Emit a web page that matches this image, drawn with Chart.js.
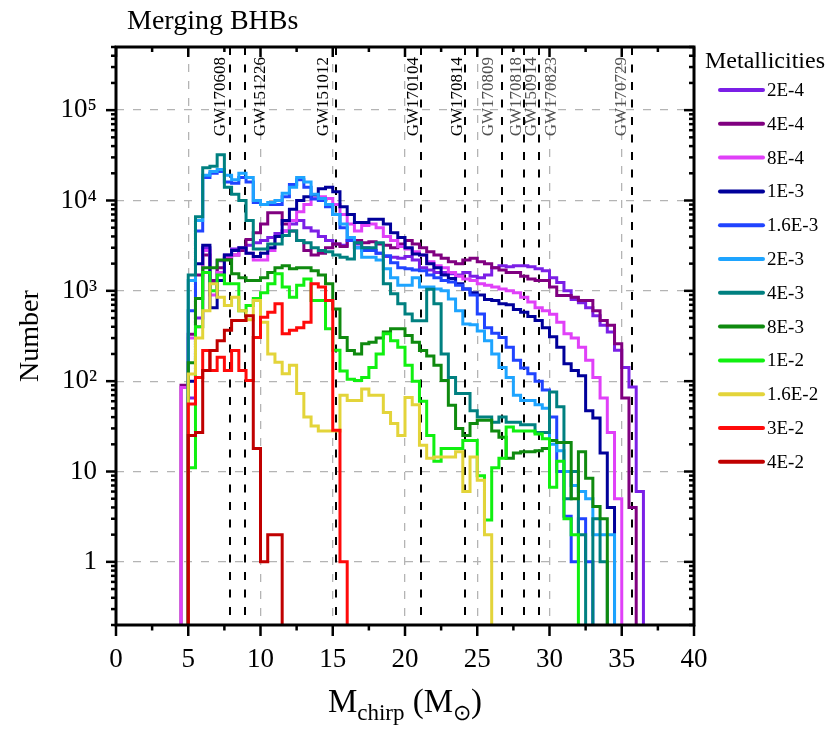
<!DOCTYPE html>
<html><head><meta charset="utf-8">
<script src="https://cdn.jsdelivr.net/npm/chart.js"></script>
<style>html,body{margin:0;padding:0;background:#fff;}canvas{display:block;}</style>
</head><body>
<canvas id="c" width="830" height="731"></canvas>
<script>
// ---------- data ----------
const binEdges = [4.5,5,5.5,6,6.5,7,7.5,8,8.5,9,9.5,10,10.5,11,11.5,12,12.5,13,13.5,14,14.5,15,15.5,16,16.5,17,17.5,18,18.5,19,19.5,20,20.5,21,21.5,22,22.5,23,23.5,24,24.5,25,25.5,26,26.5,27,27.5,28,28.5,29,29.5,30,30.5,31,31.5,32,32.5,33,33.5,34,34.5,35,35.5,36,36.5];
const metallicities = ['2E-4','4E-4','8E-4','1E-3','1.6E-3','2E-3','4E-3','8E-3','1E-2','1.6E-2','3E-2','4E-2'];
const seriesColors = ['#7B1FE6','#800080','#E040F8','#00009A','#2044FF','#1EA4FF','#008080','#0F8A0F','#10F010','#E3D43A','#FF0A0A','#C00000'];

const n2E4 = [0,65,500,3000,1250,2150,2500,2900,2900,3200,3400,3600,3900,4300,4600,5500,6000,5000,4600,4000,3600,3300,3200,3600,3300,3000,2800,2600,2400,2350,2300,2400,2200,1800,1700,1600,1600,1550,1500,1600,1450,1400,1500,1800,1900,1850,1900,1900,1850,1750,1670,1400,1240,1000,800,740,650,530,415,350,220,142,86,6];
const n4E4 = [90,330,1500,2500,1300,1800,2300,2500,2800,3700,4400,5500,7300,7300,5500,4600,3600,2800,2500,2600,3000,3300,3100,3600,3600,3400,3500,3300,3200,3000,3300,3600,3300,3000,2700,2500,2300,2100,2000,2200,2300,2100,2000,1800,1700,1600,1600,1450,1350,1300,1300,1100,890,890,850,780,780,600,470,415,260,65,4,0];
const n8E4 = [85,300,400,2800,900,1600,2400,2500,3000,2600,2200,2200,2800,4000,4600,6000,7500,9000,10500,11000,10500,9000,7000,5500,4600,5300,5500,5000,4000,3600,3100,2900,2700,2500,2100,1900,1800,1600,1450,1350,1300,1200,1150,1100,1050,1000,950,850,750,650,600,550,450,335,300,237,170,110,65,27,5];
const n1E3 = [0,100,2000,3200,650,1300,2500,2800,3000,2600,2400,2600,3000,4000,6000,8000,10000,11000,11500,13500,14000,12500,8500,7000,5700,5700,6200,6200,5500,4400,3900,3000,2550,2500,2000,1800,1500,1370,1200,1050,950,900,800,780,720,700,620,580,520,470,390,310,237,156,131,115,47,39,16,4];
const n16E3 = [0,600,4600,18000,20000,21000,16000,15500,18000,16000,9500,9000,9000,9000,11000,15000,17000,14000,10400,10000,8500,7000,5000,3600,3000,2800,2800,2600,2450,2050,1800,1750,1700,1670,1500,1400,1300,1250,1150,1050,900,555,390,340,305,237,170,140,121,100,80,40,10,3.2,1,3,1];
const n2E3 = [0,1300,6000,19000,21000,22000,19000,17000,20000,18000,10000,9000,9500,10000,12000,14000,18000,16000,11700,10500,9000,7000,5500,3900,3000,2350,2350,2200,1750,1400,1150,1150,1400,1100,1100,1050,1000,810,600,430,420,360,280,200,142,110,70,61,61,55,50,20,17,10,7,6,5,2,2,2];
const n4E3 = [0,1500,6600,23000,24000,32000,14000,11700,10000,6000,2900,2900,3300,3300,4100,4600,3600,3400,3000,2800,2700,2500,2350,2250,3400,3000,3000,3400,1200,930,720,555,465,465,1040,720,200,110,73,73,47,40,40,35,40,35,35,33,33,27,27,76,52,5,10,2,0,3,1];
const n8E3 = [0,160,820,1800,1800,2200,2200,1550,1400,1300,1300,1400,1600,1800,1900,1750,1800,1800,1670,1500,1200,630,305,218,200,260,270,300,350,380,380,320,270,218,190,150,102,54,30,25,34,37,37,28,24,14,16,16.5,16.5,17,18,22,21,21,5,16.5,8.4,4.1,3];
const n1E2 = [0,11,400,1600,1000,1500,1200,1200,600,690,820,950,1200,1550,1100,850,1150,1350,780,780,380,220,130,105,102,110,142,200,335,280,237,150,100,60,25,13,18,18,18,22,22,9,2.9,11,14,31,28,28,28,26,23,6.7,13,3,2];
const n16E2 = [0,120,300,600,1200,850,690,850,600,480,780,450,200,162,121,150,73,40,32,28,28,28,70,61,61,82,70,70,45,34,25,66,55,19.5,14,14.5,14.5,14.5,16.5,6,14.5,8,2];
const n3E2 = [0,56,110,218,131,184,131,218,131,102,305,510,580,720,335,365,390,450,1200,1100,780,28.6,1];
const n4E2 = [0,25,27,131,218,280,365,470,470,530,18,1,2,2];
const seriesValues = [n2E4,n4E4,n8E4,n1E3,n16E3,n2E3,n4E3,n8E3,n1E2,n16E2,n3E2,n4E2];

// gravitational-wave events
const gwLineMass = [7.87,8.91,15.25,21.13,24.13,26.71,28.24,29.27,35.71];
const gwNames = ['GW170608','GW151226','GW151012','GW170104','GW170814','GW170809','GW170818','GW150914','GW170823','GW170729'];
const gwLabelPos = [7.24,9.97,14.39,20.6,23.61,25.81,27.71,28.79,30.15,34.98];
const gwLabelDark = [true,true,true,true,true,false,false,false,false,false];

const xMajorTicks = [0,5,10,15,20,25,30,35,40];
const xMinorTicks = [2.5,7.5,12.5,17.5,22.5,27.5,32.5,37.5];
const yMajorTicks = [1,10,100,1000,10000,100000];
const Y_MIN = 0.2, Y_MAX = 5e5;

// ---------- build ----------
const FONT = "'Liberation Serif','Times New Roman',Times,serif";
const FLOOR = 0.01; // empty bins drop below the axis
const datasets = seriesValues.map((vals, k) => {
  const pts = [{x: binEdges[0], y: FLOOR}];
  for (let i = 0; i < binEdges.length - 1; i++) {
    const v = vals[i] || 0;
    pts.push({x: binEdges[i], y: v > 0 ? v : FLOOR});
  }
  pts.push({x: binEdges[binEdges.length - 1], y: FLOOR});
  return {
    label: metallicities[k], data: pts,
    borderColor: seriesColors[k], backgroundColor: seriesColors[k],
    borderWidth: 3, stepped: 'before', pointRadius: 0, fill: false,
    order: -k, clip: 0, borderJoinStyle: 'miter'
  };
});

const sup = {'0':'\u2070','1':'\u00B9','2':'\u00B2','3':'\u00B3','4':'\u2074','5':'\u2075','6':'\u2076','7':'\u2077','8':'\u2078','9':'\u2079'};

const decor = {
  id: 'decor',
  beforeDatasetsDraw(chart) {
    const {ctx, chartArea: a, scales: {x}} = chart;
    ctx.save();
    ctx.beginPath(); ctx.rect(a.left, a.top, a.right - a.left, a.bottom - a.top); ctx.clip();
    ctx.strokeStyle = '#000'; ctx.lineWidth = 2; ctx.setLineDash([8, 9.5]);
    gwLineMass.forEach(m => {
      const p = Math.round(x.getPixelForValue(m));
      ctx.beginPath(); ctx.moveTo(p, a.top); ctx.lineTo(p, a.bottom); ctx.stroke();
    });
    ctx.setLineDash([]);
    ctx.font = '17px ' + FONT; ctx.textAlign = 'right'; ctx.textBaseline = 'middle';
    gwNames.forEach((n, i) => {
      const p = x.getPixelForValue(gwLabelPos[i]);
      ctx.save(); ctx.translate(p, a.top + 10); ctx.rotate(-Math.PI / 2);
      ctx.fillStyle = gwLabelDark[i] ? '#000' : '#505050';
      ctx.fillText(n, 0, 0); ctx.restore();
    });
    ctx.restore();
  },
  afterDatasetsDraw(chart) {
    const {ctx, chartArea: a, scales: {x, y}} = chart;
    ctx.save();
    ctx.strokeStyle = '#000'; ctx.lineWidth = 2.5;
    const seg = (x1, y1, x2, y2) => { ctx.beginPath(); ctx.moveTo(x1, y1); ctx.lineTo(x2, y2); ctx.stroke(); };
    xMajorTicks.forEach(v => { const p = x.getPixelForValue(v); seg(p, a.bottom, p, a.bottom + 11); seg(p, a.top, p, a.top + 10); });
    xMinorTicks.forEach(v => { const p = x.getPixelForValue(v); seg(p, a.bottom, p, a.bottom + 5.5); seg(p, a.top, p, a.top + 5); });
    for (let e = -1; e <= 5; e++) {
      for (let k = 1; k <= 9; k++) {
        const v = k * Math.pow(10, e);
        if (v < Y_MIN - 1e-9 || v > Y_MAX + 1e-9) continue;
        const p = y.getPixelForValue(v);
        const len = k === 1 ? 10 : 5;
        seg(a.left - len, p, a.left, p);
        seg(a.right, p, a.right - len, p);
      }
    }
    ctx.lineWidth = 3;
    ctx.strokeRect(a.left, a.top, a.right - a.left, a.bottom - a.top);
    ctx.restore();
  },
  afterDraw(chart) {
    const {ctx, chartArea: a} = chart;
    ctx.save();
    ctx.fillStyle = '#000';
    ctx.textBaseline = 'alphabetic'; ctx.textAlign = 'left';
    ctx.font = '28px ' + FONT;
    ctx.fillText('Merging BHBs', 127, 29);
    // legend
    ctx.font = '24px ' + FONT;
    ctx.fillText('Metallicities', 705, 68);
    ctx.font = '19px ' + FONT; ctx.textBaseline = 'middle';
    metallicities.forEach((m, i) => {
      const yy = 90 + 33.8 * i;
      ctx.strokeStyle = seriesColors[i]; ctx.lineWidth = 4; ctx.lineCap = 'round';
      ctx.beginPath(); ctx.moveTo(720, yy); ctx.lineTo(763, yy); ctx.stroke();
      ctx.fillStyle = '#000';
      ctx.fillText(m, 767, yy + 1);
    });
    // x axis title with subscripts
    const parts = [['M', 33, 0], ['chirp', 23, 8], [' (M', 33, 0], ['\u2299', 22, 8], [')', 33, 0]];
    let w = 0;
    parts.forEach(p => { ctx.font = p[1] + 'px ' + FONT; w += ctx.measureText(p[0]).width; });
    let cx = (a.left + a.right) / 2 - w / 2;
    ctx.textBaseline = 'alphabetic';
    parts.forEach(p => { ctx.font = p[1] + 'px ' + FONT; ctx.fillText(p[0], cx, 712 + p[2]); cx += ctx.measureText(p[0]).width; });
    ctx.restore();
  }
};

new Chart(document.getElementById('c'), {
  type: 'line',
  data: {datasets},
  options: {
    responsive: false, animation: false, devicePixelRatio: 1,
    layout: {padding: {left: 0, right: 136, top: 47, bottom: 0}},
    plugins: {legend: {display: false}, tooltip: {enabled: false}, title: {display: false}},
    scales: {
      x: {
        type: 'linear', min: 0, max: 40,
        afterFit: s => { s.height = 106; },
        ticks: {stepSize: 5, color: '#000', padding: 19, font: {family: FONT, size: 27}},
        grid: {color: '#b4b4b4', lineWidth: 1.3, drawTicks: false},
        border: {display: false, dash: [8, 9]}
      },
      y: {
        type: 'logarithmic', min: Y_MIN, max: Y_MAX,
        afterFit: s => { s.width = 116; },
        afterBuildTicks: s => { s.ticks = yMajorTicks.map(v => ({value: v})); },
        ticks: {
          autoSkip: false, color: '#000', padding: 19, font: {family: FONT, size: 27},
          callback: v => { const e = Math.round(Math.log10(v)); if (e === 0) return '1'; if (e === 1) return '10'; return '10' + String(e).split('').map(d => sup[d]).join(''); }
        },
        grid: {color: '#b4b4b4', lineWidth: 1.3, drawTicks: false},
        border: {display: false, dash: [8, 9]},
        title: {display: true, text: 'Number', color: '#000', font: {family: FONT, size: 28}, padding: {top: 14, bottom: 0}}
      }
    }
  },
  plugins: [decor]
});
</script>
</body></html>
